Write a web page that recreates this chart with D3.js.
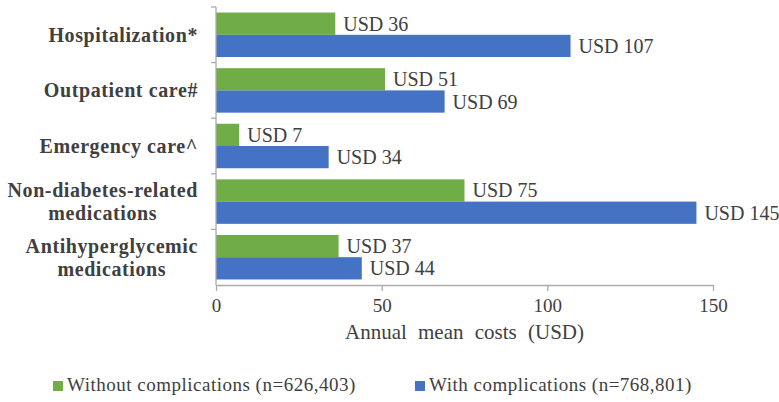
<!DOCTYPE html>
<html>
<head>
<meta charset="utf-8">
<script src="https://cdn.jsdelivr.net/npm/d3@7/dist/d3.min.js"></script>
</head>
<body style="margin:0">
<svg id="chart" width="779" height="402"></svg>
<script>
// Annual mean costs per patient, by cost category and complication status
const categories = [
  "Hospitalization*",
  "Outpatient care#",
  "Emergency care^",
  "Non-diabetes-related\nmedications",
  "Antihyperglycemic\nmedications"
];
const seriesNames = [
  "Without complications (n=626,403)",
  "With complications (n=768,801)"
];
const withoutComplications = [36, 51, 7, 75, 37];
const withComplications = [107, 69, 34, 145, 44];
const xTicks = [0, 50, 100, 150];
const colors = ["#70AD47", "#4472C4"];

const textColor = "#404040";
const axisColor = "#ABABAB";
const svg = d3.select("#chart");
const serifFont = () => "'Times New Roman'";

const x = d3.scaleLinear().domain([0, 150]).range([216, 713]);
const y = d3.scaleBand().domain(categories).range([7, 285]).padding(0);
const inner = d3.scaleBand().domain([0, 1]).range([0, y.bandwidth()])
  .paddingInner(0).paddingOuter(0.25);

const rows = categories.map((c, i) => ({
  cat: c,
  values: [withoutComplications[i], withComplications[i]]
}));

// bars
const groups = svg.append("g").selectAll("g.row").data(rows).join("g")
  .attr("class", "row")
  .attr("transform", d => `translate(0,${y(d.cat)})`);

groups.selectAll("rect")
  .data(d => d.values.map((v, s) => ({ v, s })))
  .join("rect")
  .attr("x", x(0))
  .attr("y", d => inner(d.s))
  .attr("width", d => x(d.v) - x(0))
  .attr("height", inner.bandwidth())
  .attr("fill", d => colors[d.s]);

// value labels
groups.selectAll("text.val")
  .data(d => d.values.map((v, s) => ({ v, s })))
  .join("text")
  .attr("class", "val")
  .attr("x", d => x(d.v) + 8)
  .attr("y", d => inner(d.s) + inner.bandwidth() / 2 + 7)
  .attr("font-size", 20)
  .attr("fill", textColor)
  .style("font-family", serifFont)
  .text(d => `USD ${d.v}`);

// category axis
const yAxis = svg.append("g");
yAxis.append("line")
  .attr("x1", x(0)).attr("x2", x(0))
  .attr("y1", y.range()[0]).attr("y2", y.range()[1])
  .attr("stroke", axisColor).attr("stroke-width", 1.3);
yAxis.selectAll("line.tick").data(categories.map(c => y(c))).join("line")
  .attr("class", "tick")
  .attr("x1", x(0) - 5).attr("x2", x(0))
  .attr("y1", d => d).attr("y2", d => d)
  .attr("stroke", axisColor).attr("stroke-width", 1.3);

// category labels, each block centered on its own lines and right-aligned
const lineGap = 23;
rows.forEach(r => {
  const lines = r.cat.split("\n");
  const cy = y(r.cat) + y.bandwidth() / 2;
  const t = svg.append("text")
    .attr("font-size", 20)
    .attr("font-weight", "bold")
    .attr("letter-spacing", 0.6)
    .attr("fill", textColor)
    .attr("text-anchor", "middle")
    .style("font-family", serifFont);
  const spans = lines.map((ln, i) => t.append("tspan")
    .attr("y", cy + 7 + (i - (lines.length - 1) / 2) * lineGap)
    .text(ln));
  const w = d3.max(spans, s => s.node().getComputedTextLength());
  spans.forEach(s => s.attr("x", 198 - w / 2));
});

// value axis
const xAxis = svg.append("g")
  .attr("transform", `translate(0,${y.range()[1]})`)
  .call(d3.axisBottom(x).tickValues(xTicks).tickSize(6).tickSizeOuter(0).tickPadding(8));
xAxis.select(".domain").attr("stroke", axisColor).attr("stroke-width", 1.3);
xAxis.selectAll(".tick line").attr("stroke", axisColor).attr("stroke-width", 1.3);
xAxis.selectAll(".tick text")
  .attr("font-size", 19)
  .attr("fill", textColor)
  .style("font-family", serifFont);

svg.append("text")
  .attr("x", (x(0) + x(150)) / 2)
  .attr("y", 339)
  .attr("text-anchor", "middle")
  .attr("font-size", 21)
  .attr("word-spacing", 6)
  .attr("fill", textColor)
  .style("font-family", serifFont)
  .text("Annual mean costs (USD)");

// legend
const legendX = [53, 415];
const legend = svg.selectAll("g.legend").data(seriesNames).join("g")
  .attr("class", "legend")
  .attr("transform", (d, i) => `translate(${legendX[i]},381)`);
legend.append("rect")
  .attr("width", 10).attr("height", 10)
  .attr("fill", (d, i) => colors[i]);
legend.append("text")
  .attr("x", 14).attr("y", 10)
  .attr("font-size", 19)
  .attr("letter-spacing", 0.5)
  .attr("fill", textColor)
  .style("font-family", serifFont)
  .text(d => d);
</script>
</body>
</html>
